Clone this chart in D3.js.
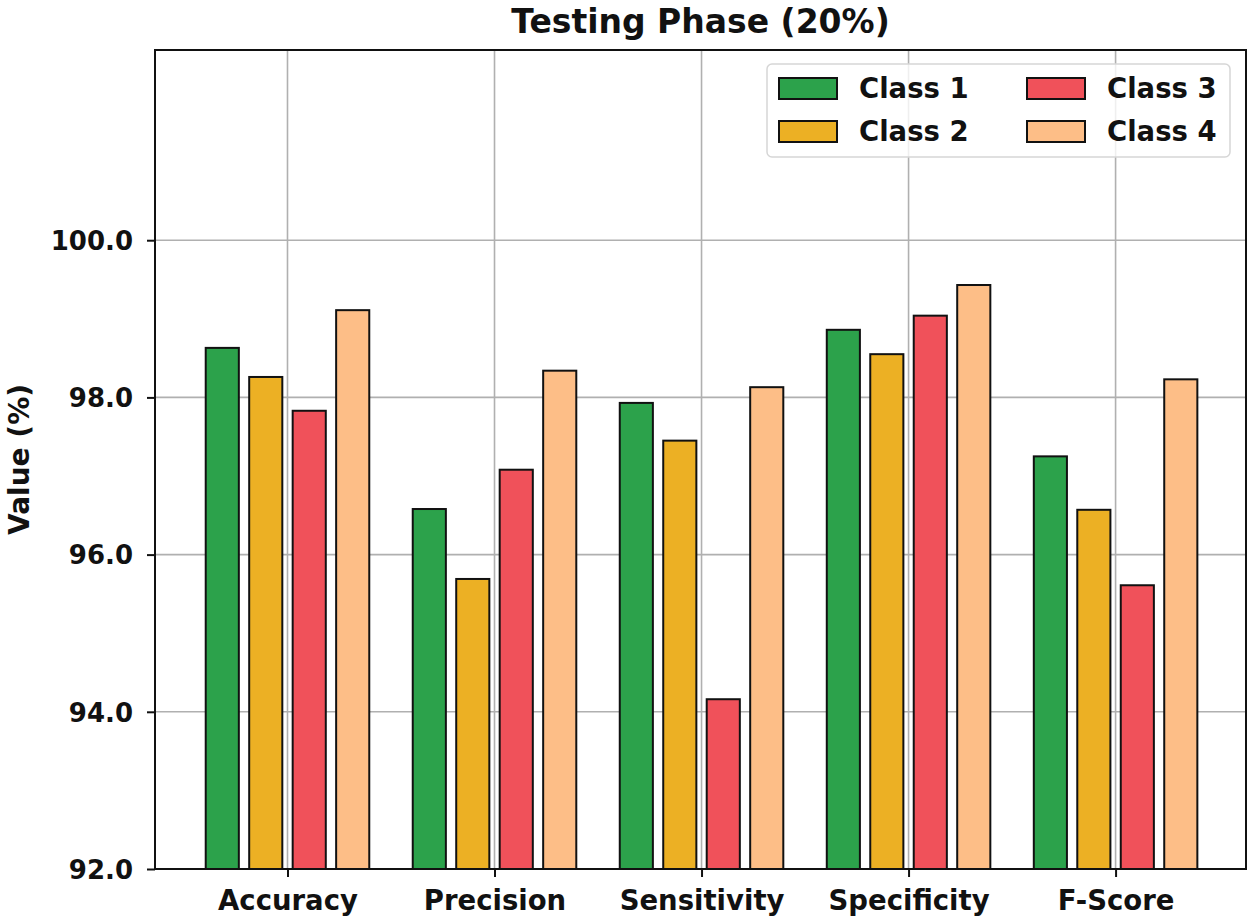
<!DOCTYPE html>
<html>
<head>
<meta charset="utf-8">
<script src="https://cdn.jsdelivr.net/npm/d3@7"></script>
<style>
  body { margin: 0; background: #fff; }
  svg text { font-family: "DejaVu Sans", sans-serif; font-weight: bold; }
</style>
</head>
<body>
<svg id="chart" width="1250" height="922"></svg>
<script>
const metrics = ['Accuracy', 'Precision', 'Sensitivity', 'Specificity', 'F-Score'];
const classes = ['Class 1', 'Class 2', 'Class 3', 'Class 4'];
const class1 = [98.63, 96.58, 97.93, 98.86, 97.25];
const class2 = [98.26, 95.69, 97.45, 98.55, 96.57];
const class3 = [97.83, 97.08, 94.16, 99.04, 95.61];
const class4 = [99.11, 98.34, 98.13, 99.43, 98.23];
const yTicks = [92, 94, 96, 98, 100];
const colors = ['#2ca24b', '#ecb024', '#f0515a', '#fdbe87'];

const series = [class1, class2, class3, class4];

const svg = d3.select('#chart');
const margin = { top: 50, right: 4, bottom: 53, left: 155 };
const width = 1250 - margin.left - margin.right;
const height = 922 - margin.top - margin.bottom;

const step = 0.21;     // offset between bars in a group
const barW = 0.16;     // bar width in category units

const x = d3.scaleLinear().domain([-0.64, 4.63]).range([0, width]);
const y = d3.scaleLinear().domain([92, 102.42]).range([height, 0]);

const g = svg.append('g').attr('transform', `translate(${margin.left},${margin.top})`);

// grid
g.append('g').selectAll('line')
    .data(yTicks)
    .enter().append('line')
    .attr('x1', 0).attr('x2', width)
    .attr('y1', d => y(d)).attr('y2', d => y(d))
    .attr('stroke', '#b0b0b0').attr('stroke-width', 1.6);

g.append('g').selectAll('line')
    .data(metrics)
    .enter().append('line')
    .attr('x1', (d, i) => x(i)).attr('x2', (d, i) => x(i))
    .attr('y1', 0).attr('y2', height)
    .attr('stroke', '#b0b0b0').attr('stroke-width', 1.6);

// bars
series.forEach((vals, s) => {
    const off = (s - 1.5) * step;
    g.append('g').selectAll('rect')
        .data(vals)
        .enter().append('rect')
        .attr('x', (d, i) => x(i + off - barW / 2))
        .attr('y', d => y(d))
        .attr('width', x(barW) - x(0))
        .attr('height', d => y(92) - y(d))
        .attr('fill', colors[s])
        .attr('stroke', '#111')
        .attr('stroke-width', 2);
});

// axes
const yAxis = g.append('g')
    .call(d3.axisLeft(y).tickValues(yTicks).tickFormat(d3.format('.1f')).tickSize(8).tickPadding(14));
const xAxis = g.append('g')
    .attr('transform', `translate(0,${height})`)
    .call(d3.axisBottom(x).tickValues(d3.range(metrics.length)).tickFormat(i => metrics[i]).tickSize(8).tickPadding(8));

[yAxis, xAxis].forEach(a => {
    a.select('.domain').remove();
    a.selectAll('.tick line').attr('stroke', '#111').attr('stroke-width', 2);
    a.selectAll('.tick text').attr('fill', '#111');
});
yAxis.selectAll('.tick text').attr('dy', '0.36em').style('font-size', '26px');
xAxis.selectAll('.tick text').attr('dy', '0.9em').style('font-size', '27.5px');

// frame
g.append('rect')
    .attr('width', width).attr('height', height)
    .attr('fill', 'none').attr('stroke', '#111').attr('stroke-width', 2);

// title + y label
svg.append('text')
    .attr('x', margin.left + width / 2).attr('y', 33)
    .attr('text-anchor', 'middle')
    .style('font-size', '33px')
    .attr('fill', '#111')
    .text('Testing Phase (20%)');

svg.append('text')
    .attr('transform', `translate(29,${margin.top + height / 2}) rotate(-90)`)
    .attr('text-anchor', 'middle')
    .style('font-size', '28px')
    .attr('fill', '#111')
    .text('Value (%)');

// legend
const leg = svg.append('g').attr('transform', 'translate(767,64)');
leg.append('rect')
    .attr('width', 463).attr('height', 93)
    .attr('rx', 5)
    .attr('fill', 'rgba(255,255,255,0.8)')
    .attr('stroke', '#d6d6d6').attr('stroke-width', 1.5);

classes.forEach((c, i) => {
    const col = Math.floor(i / 2), row = i % 2;
    const item = leg.append('g').attr('transform', `translate(${12 + col * 248},${14 + row * 43})`);
    item.append('rect')
        .attr('width', 58).attr('height', 21)
        .attr('fill', colors[i]).attr('stroke', '#111').attr('stroke-width', 2);
    item.append('text')
        .attr('x', 80).attr('y', 20)
        .style('font-size', '27.5px')
        .attr('fill', '#111')
        .text(c);
});
</script>
</body>
</html>
